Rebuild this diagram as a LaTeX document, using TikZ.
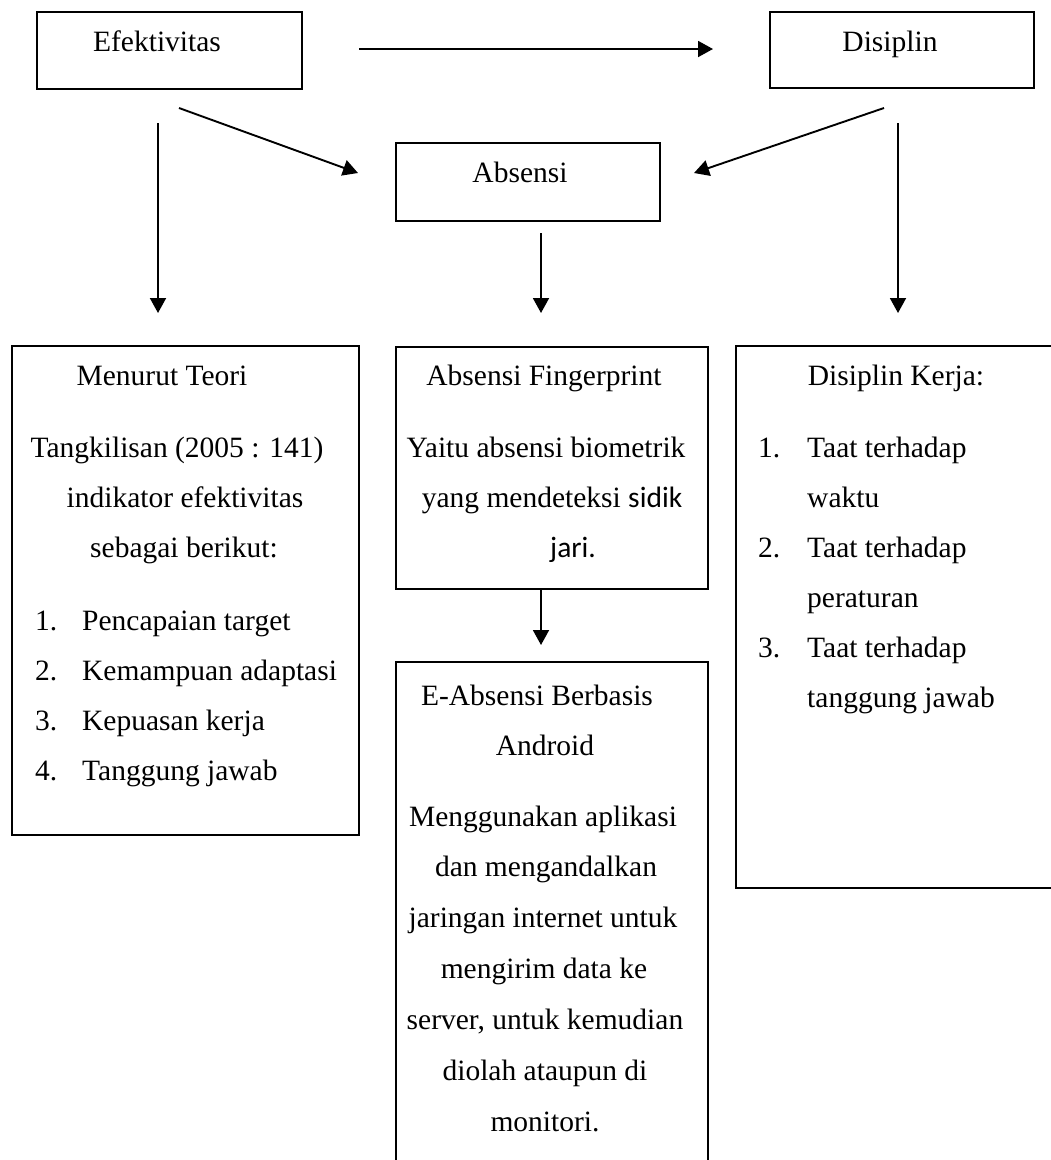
\documentclass[tikz,border=0pt]{standalone}
\usepackage{fontspec}
\setmainfont{Liberation Serif}
\newfontfamily\calibrifont{Carlito}
\usetikzlibrary{arrows.meta}
\begin{document}
\begin{tikzpicture}[x=1pt,y=-1pt,
  box/.style={draw, line width=2.1pt, inner sep=0pt, outer sep=0pt, anchor=north west},
  txt/.style={anchor=base, inner sep=0pt, font=\fontsize{29.5}{35}\selectfont},
  ltxt/.style={anchor=base west, inner sep=0pt, font=\fontsize{29.5}{35}\selectfont},
  arr/.style={line width=1.9pt, -{Triangle[length=15pt,width=16pt]}}]
\path[use as bounding box] (0,0) rectangle (1051,1160);
\fill[white] (0,0) rectangle (1051,1160);
\clip (0,0) rectangle (1051,1160);

% boxes
\node[box, minimum width=265pt, minimum height=77pt] (eff) at (37,12) {};
\node[box, minimum width=264pt, minimum height=76pt] (dis) at (770,12) {};
\node[box, minimum width=264pt, minimum height=78pt] (abs) at (396,143) {};
\node[box, minimum width=347pt, minimum height=489pt] (teori) at (12,346) {};
\node[box, minimum width=312pt, minimum height=242pt] (finger) at (396,347) {};
\node[box, minimum width=340pt, minimum height=542pt] (disk) at (736,346) {};
\node[box, minimum width=312pt, minimum height=530pt] (eabs) at (396,662) {};

% titles
\node[txt] (teff) at (157,51) {Efektivitas};
\node[txt] (tdis) at (890,51) {Disiplin};
\node[txt] (tabs) at (520,182) {Absensi};

% left box
\node[txt] (l1) at (162,385) {Menurut Teori};
\node[txt] (l2) at (177,457) {Tangkilisan (2005 : 141)};
\node[txt] (l3) at (185,507) {indikator efektivitas};
\node[txt] (l4) at (184,557) {sebagai berikut:};
\node[ltxt] (ln1) at (35,630) {1.};
\node[ltxt] (li1) at (82,630) {Pencapaian target};
\node[ltxt] (ln2) at (35,680) {2.};
\node[ltxt] (li2) at (82,680) {Kemampuan adaptasi};
\node[ltxt] (ln3) at (35,730) {3.};
\node[ltxt] (li3) at (82,730) {Kepuasan kerja};
\node[ltxt] (ln4) at (35,780) {4.};
\node[ltxt] (li4) at (82,780) {Tanggung jawab};

% middle box
\node[txt] (m1) at (544,385) {Absensi Fingerprint};
\node[txt] (m2) at (546,457) {Yaitu absensi biometrik};
\node[txt] (m3) at (552,507) {yang mendeteksi {\calibrifont sidik}};
\node[ltxt] (m4) at (550,557) {\calibrifont jari.};

% right box
\node[txt] (r1) at (896,385) {Disiplin Kerja:};
\node[ltxt] (rn1) at (758,457) {1.};
\node[ltxt] (ri1) at (807,457) {Taat terhadap};
\node[ltxt] (ri1b) at (807,507) {waktu};
\node[ltxt] (rn2) at (758,557) {2.};
\node[ltxt] (ri2) at (807,557) {Taat terhadap};
\node[ltxt] (ri2b) at (807,607) {peraturan};
\node[ltxt] (rn3) at (758,657) {3.};
\node[ltxt] (ri3) at (807,657) {Taat terhadap};
\node[ltxt] (ri3b) at (807,707) {tanggung jawab};

% e-absensi box
\node[txt] (e1) at (537,705) {E-Absensi Berbasis};
\node[txt] (e2) at (545,755) {Android};
\node[txt] (e3) at (543,826) {Menggunakan aplikasi};
\node[txt] (e4) at (546,876) {dan mengandalkan};
\node[txt] (e5) at (543,927) {jaringan internet untuk};
\node[txt] (e6) at (544,978) {mengirim data ke};
\node[txt] (e7) at (545,1029) {server, untuk kemudian};
\node[txt] (e8) at (545,1080) {diolah ataupun di};
\node[txt] (e9) at (545,1131) {monitori.};

% arrow end points
\coordinate (h1) at (359,49);  \coordinate (h2) at (713,49);
\coordinate (d1a) at (179,108); \coordinate (d1b) at (358,173);
\coordinate (d2a) at (884,108); \coordinate (d2b) at (694,173);
\coordinate (v1a) at (158,123); \coordinate (v1b) at (158,313);
\coordinate (v2a) at (541,233); \coordinate (v2b) at (541,313);
\coordinate (v3a) at (898,123); \coordinate (v3b) at (898,313);
\coordinate (f2) at (541,645);

\draw[arr] (h1) -- (h2);
\draw[arr] (d1a) -- (d1b);
\draw[arr] (d2a) -- (d2b);
\draw[arr] (v1a) -- (v1b);
\draw[arr] (v2a) -- (v2b);
\draw[arr] (v3a) -- (v3b);
\draw[arr] (finger.south -| f2) -- (f2);
\end{tikzpicture}
\end{document}
